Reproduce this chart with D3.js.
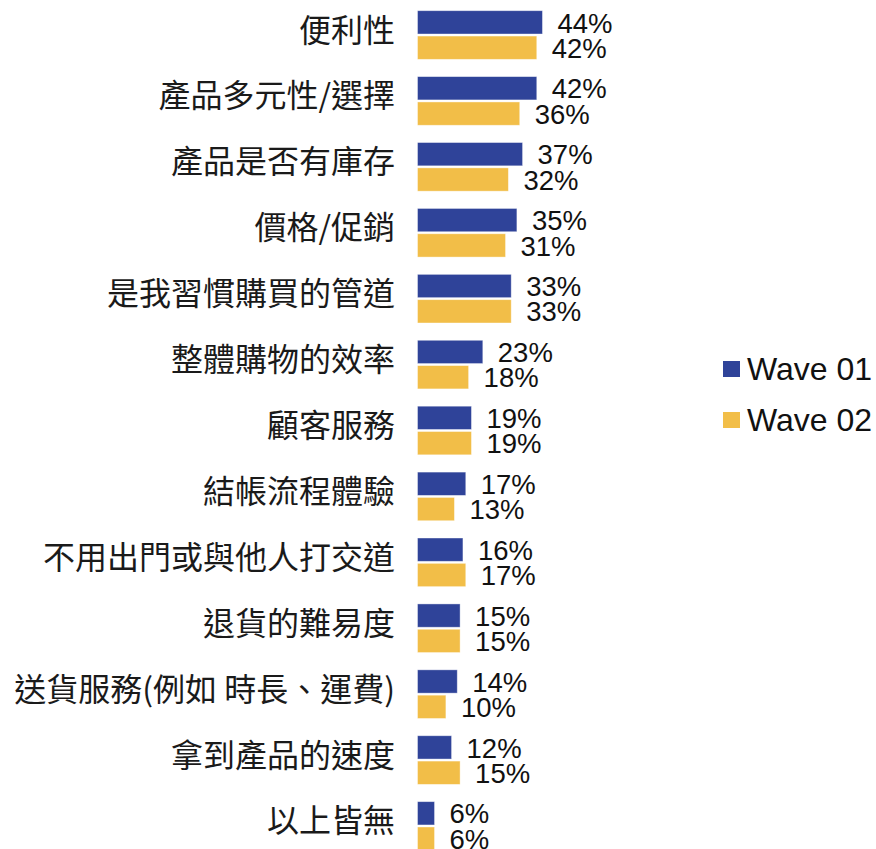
<!DOCTYPE html>
<html>
<head>
<meta charset="utf-8">
<script src="https://cdn.jsdelivr.net/npm/d3@7"></script>
<style>
  html, body { margin: 0; padding: 0; background: #fff; }
  svg { display: block; }
</style>
</head>
<body>
<svg id="chart" width="876" height="849"></svg>
<script>
// Reasons for choosing a shopping channel, two survey waves
const categories = [
  "便利性",
  "產品多元性/選擇",
  "產品是否有庫存",
  "價格/促銷",
  "是我習慣購買的管道",
  "整體購物的效率",
  "顧客服務",
  "結帳流程體驗",
  "不用出門或與他人打交道",
  "退貨的難易度",
  "送貨服務(例如 時長、運費)",
  "拿到產品的速度",
  "以上皆無"
];
const seriesNames = ["Wave 01", "Wave 02"];
const wave01 = [44, 42, 37, 35, 33, 23, 19, 17, 16, 15, 14, 12, 6];
const wave02 = [42, 36, 32, 31, 33, 18, 19, 13, 17, 15, 10, 15, 6];

const colors = { "Wave 01": "#2F4399", "Wave 02": "#F2BE48" };
const rows = categories.map((c, i) => ({
  category: c,
  values: [
    { series: "Wave 01", value: wave01[i] },
    { series: "Wave 02", value: wave02[i] }
  ]
}));

const svg = d3.select("#chart");

const x = d3.scaleLinear().domain([0, 100]).range([417.5, 417.5 + 284]);
const y = d3.scaleBand()
  .domain(categories)
  .range([10.7, 850.3])
  .paddingInner(0.262)
  .paddingOuter(0);
const ySub = d3.scaleBand()
  .domain(seriesNames)
  .range([0, y.bandwidth()])
  .paddingInner(0.08);

const catSize = 32;
const groups = svg.append("g").selectAll("g")
  .data(rows)
  .join("g")
  .attr("transform", d => `translate(0,${y(d.category)})`);

// category labels, right-aligned against the bars
groups.append("text")
  .attr("x", 395)
  .attr("y", y.bandwidth() / 2 - 5 + catSize * 0.36)
  .attr("text-anchor", "end")
  .attr("font-family", "'Noto Sans CJK TC', 'Noto Sans CJK SC', sans-serif")
  .attr("font-size", catSize)
  .attr("fill", "#1a1a1a")
  .text(d => d.category);

// bars
groups.selectAll("rect")
  .data(d => d.values)
  .join("rect")
  .attr("x", x(0))
  .attr("y", d => ySub(d.series))
  .attr("width", d => x(d.value) - x(0))
  .attr("height", ySub.bandwidth())
  .attr("fill", d => colors[d.series])
  .attr("stroke", "#ffffff")
  .attr("stroke-opacity", 0.5)
  .attr("stroke-width", 0.8);

// value labels
groups.selectAll("text.val")
  .data(d => d.values)
  .join("text")
  .attr("class", "val")
  .attr("x", d => x(d.value) + 15)
  .attr("y", d => ySub(d.series) + ySub.bandwidth() - 1.5)
  .attr("font-family", "'Liberation Sans', Arial, sans-serif")
  .attr("font-size", 27.5)
  .attr("fill", "#111")
  .text(d => d.value + "%");

// legend
const legend = svg.append("g").selectAll("g")
  .data(seriesNames)
  .join("g")
  .attr("transform", (d, i) => `translate(723,${361 + i * 51})`);
legend.append("rect")
  .attr("width", 17)
  .attr("height", 16)
  .attr("fill", d => colors[d]);
legend.append("text")
  .attr("x", 24)
  .attr("y", 18.5)
  .attr("font-family", "'Liberation Sans', Arial, sans-serif")
  .attr("font-size", 32)
  .attr("fill", "#111")
  .text(d => d);
</script>
</body>
</html>
